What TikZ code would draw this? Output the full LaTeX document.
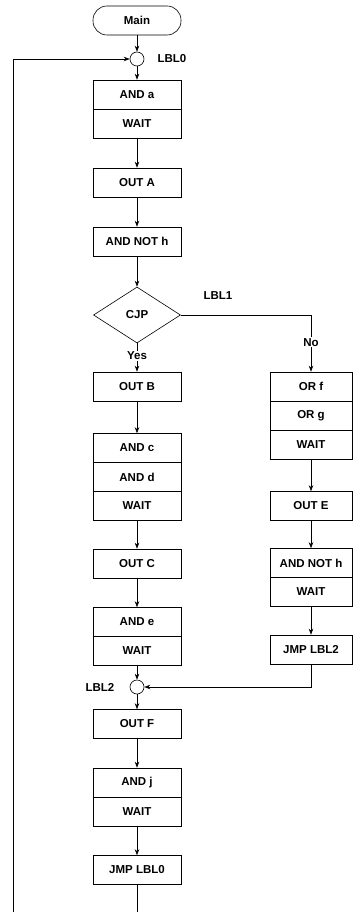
\documentclass[tikz,border=0pt]{standalone}
\usepackage{fontspec}
\setmainfont{Liberation Sans}
\usetikzlibrary{shapes.geometric,arrows.meta}

\begin{document}
\begin{tikzpicture}[x=1pt, y=-1pt, line width=0.6pt,
  every node/.style={font=\fontsize{11.5}{13}\selectfont\bfseries},
  cell/.style={rectangle, draw, minimum width=88pt, minimum height=29pt, inner sep=0pt},
  rcell/.style={cell, minimum width=82pt},
  term/.style={cell, rounded corners=14pt},
  junc/.style={circle, draw, minimum size=14pt, inner sep=0pt},
  test/.style={diamond, draw, aspect=1.55, minimum width=87pt, minimum height=56pt, inner sep=0pt},
  lbl/.style={inner sep=1pt},
  arr/.style={-{Stealth[length=6pt,width=4.5pt]}}]
\useasboundingbox (0,0) rectangle (353,912);

\node[term] (main) at (137,20.5) {Main};
\node[junc] (l0) at (137,59) {};
\node[lbl] (l0t) at (172,59) {LBL0};
\node[cell] (anda) at (137,94.5) {AND a};
\node[cell] (wa) at (137,123.5) {WAIT};
\node[cell] (outa) at (137,182.5) {OUT A};
\node[cell] (anh) at (137,241.5) {AND NOT h};
\node[test] (cjp) at (137,315) {CJP};
\node[lbl] (l1t) at (218,296) {LBL1};

\node[cell] (outb) at (137,386.5) {OUT B};
\node[cell] (andc) at (137,448) {AND c};
\node[cell] (andd) at (137,477) {AND d};
\node[cell] (wb) at (137,506) {WAIT};
\node[cell] (outc) at (137,563.5) {OUT C};
\node[cell] (ande) at (137,622) {AND e};
\node[cell] (wc) at (137,650.5) {WAIT};
\node[junc] (l2) at (137,687) {};
\node[lbl] (l2t) at (100,687) {LBL2};
\node[cell] (outf) at (137,724) {OUT F};
\node[cell] (andj) at (137,782.5) {AND j};
\node[cell] (wd) at (137,811.5) {WAIT};
\node[cell] (jmp0) at (137,870) {JMP LBL0};

\node[rcell] (orf) at (311,386.5) {OR f};
\node[rcell] (org) at (311,416) {OR g};
\node[rcell] (we) at (311,445) {WAIT};
\node[rcell] (oute) at (311,506) {OUT E};
\node[rcell] (anhr) at (311,563) {AND NOT h};
\node[rcell] (wf) at (311,591.5) {WAIT};
\node[rcell] (jmp2) at (311,649.5) {JMP LBL2};

\coordinate (bot) at (137,912);
\coordinate (loop) at (13,912);

% main column
\draw[arr] (main)--(l0);
\draw[arr] (l0)--(anda);
\draw[arr] (wa)--(outa);
\draw[arr] (outa)--(anh);
\draw[arr] (anh)--(cjp);
\draw[arr] (cjp.south)--(outb) node[pos=0.45, lbl, fill=white] {Yes};
\draw[arr] (outb)--(andc);
\draw[arr] (wb)--(outc);
\draw[arr] (outc)--(ande);
\draw[arr] (wc)--(l2);
\draw[arr] (l2)--(outf);
\draw[arr] (outf)--(andj);
\draw[arr] (wd)--(jmp0);
\draw (jmp0)--(bot);

% no branch
\draw[arr] (cjp.east) -| (orf.north) node[pos=0.74, lbl, fill=white] {No};
\draw[arr] (we)--(oute);
\draw[arr] (oute)--(anhr);
\draw[arr] (wf)--(jmp2);
\draw[arr] (jmp2.south) |- (l2.east);

% loop back
\draw[arr] (loop) |- (l0.west);
\end{tikzpicture}
\end{document}
